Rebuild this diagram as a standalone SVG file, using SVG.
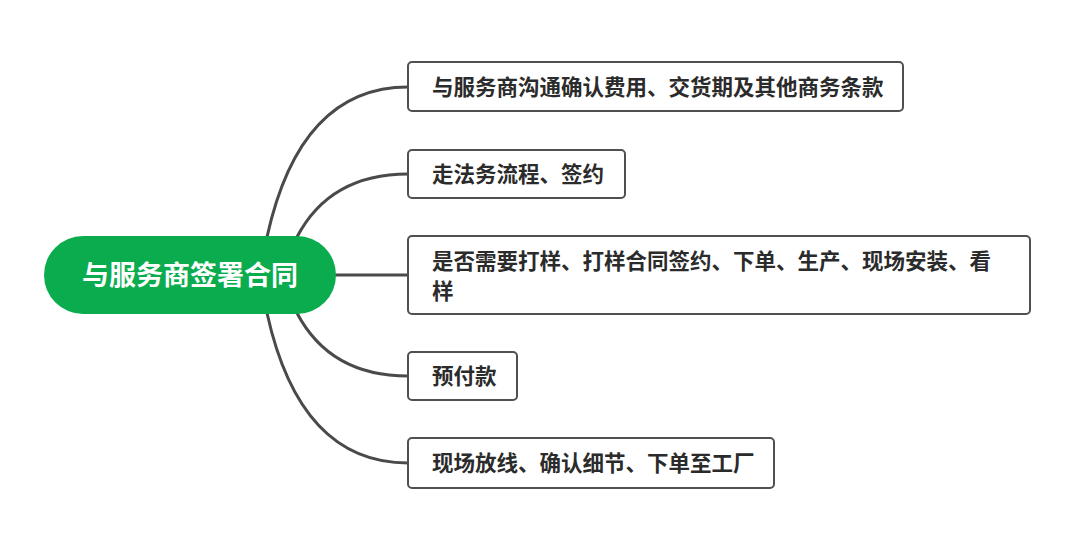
<svg xmlns="http://www.w3.org/2000/svg" width="1080" height="540" viewBox="0 0 1080 540">
<style>
.con{fill:none;stroke:#4a4a4a;stroke-width:3;stroke-linecap:round}
.box{fill:#fff;stroke:#505050;stroke-width:2}
.t{font-family:"Noto Sans CJK SC","Noto Sans",sans-serif;font-weight:700;font-size:21.5px;fill:#2b2b2b}
.ct{font-family:"Noto Sans CJK SC","Noto Sans",sans-serif;font-weight:700;font-size:27px;fill:#fff}
</style>
<rect width="1080" height="540" fill="#fff"/>
<g id="connectors">
<path class="con" d="M267,237 Q300,87 408,87"/>
<path class="con" d="M297,237 Q330,174 408,174"/>
<path class="con" d="M336,275 L408,275"/>
<path class="con" d="M297,313 Q330,376 408,376"/>
<path class="con" d="M267,313 Q300,463 408,463"/>
</g>
<g id="root">
<rect x="44" y="236" width="292" height="78" rx="39" fill="#0bac4e"/>
<text class="ct" x="190" y="285" text-anchor="middle">与服务商签署合同</text>
</g>
<g id="n1">
<rect class="box" x="408" y="62" width="495" height="49" rx="4"/>
<text class="t" x="432" y="95">与服务商沟通确认费用、交货期及其他商务条款</text>
</g>
<g id="n2">
<rect class="box" x="408" y="150" width="217" height="48" rx="4"/>
<text class="t" x="432" y="182">走法务流程、签约</text>
</g>
<g id="n3">
<rect class="box" x="408" y="236" width="622" height="78" rx="4"/>
<text class="t" x="432" y="269">是否需要打样、打样合同签约、下单、生产、现场安装、看</text>
<text class="t" x="432" y="299">样</text>
</g>
<g id="n4">
<rect class="box" x="408" y="352" width="109" height="48" rx="4"/>
<text class="t" x="432" y="384">预付款</text>
</g>
<g id="n5">
<rect class="box" x="408" y="438" width="366" height="50" rx="4"/>
<text class="t" x="432" y="471">现场放线、确认细节、下单至工厂</text>
</g>
</svg>
